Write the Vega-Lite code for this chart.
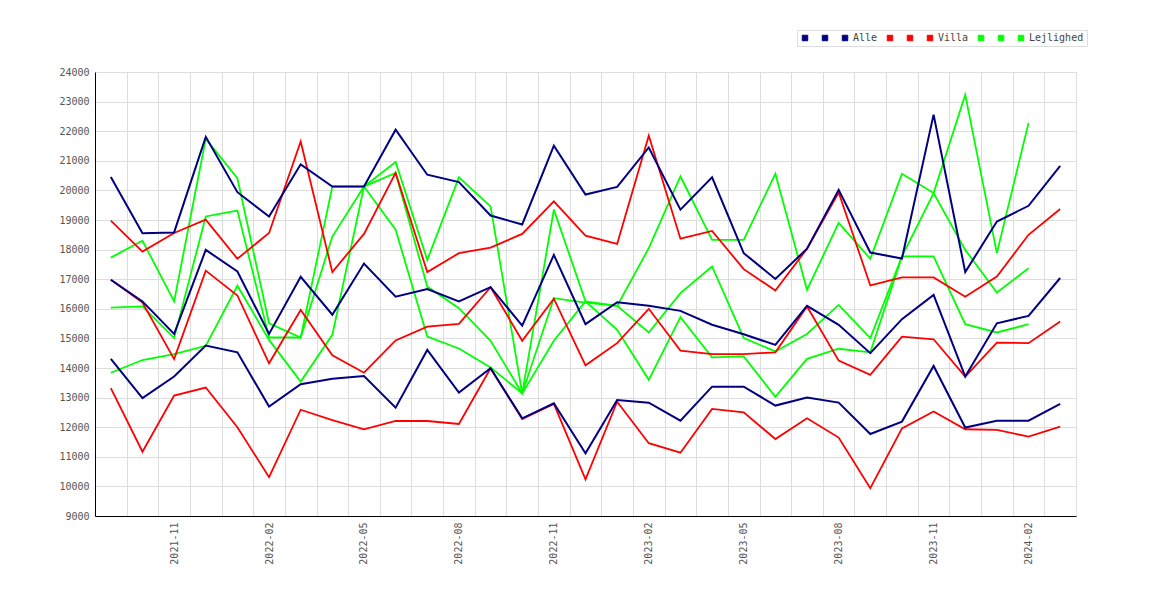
{
"$schema": "https://vega.github.io/schema/vega-lite/v6.json",
"width": 981, "height": 444,
"autosize": {"type": "none"},
"padding": {"left": 95, "top": 72, "right": 94, "bottom": 84},
"background": "white",
"config": {"view": {"stroke": null}, "font": "DejaVu Sans Mono"},
"data": {"values": [
{"m":"2021-09","s":"a1","v":20450},{"m":"2021-10","s":"a1","v":18550},{"m":"2021-11","s":"a1","v":18580},{"m":"2021-12","s":"a1","v":21810},{"m":"2022-01","s":"a1","v":19940},{"m":"2022-02","s":"a1","v":19120},{"m":"2022-03","s":"a1","v":20880},{"m":"2022-04","s":"a1","v":20130},{"m":"2022-05","s":"a1","v":20130},{"m":"2022-06","s":"a1","v":22050},{"m":"2022-07","s":"a1","v":20530},{"m":"2022-08","s":"a1","v":20280},{"m":"2022-09","s":"a1","v":19150},{"m":"2022-10","s":"a1","v":18850},{"m":"2022-11","s":"a1","v":21510},{"m":"2022-12","s":"a1","v":19860},{"m":"2023-01","s":"a1","v":20120},{"m":"2023-02","s":"a1","v":21450},{"m":"2023-03","s":"a1","v":19350},{"m":"2023-04","s":"a1","v":20440},{"m":"2023-05","s":"a1","v":17880},{"m":"2023-06","s":"a1","v":17010},{"m":"2023-07","s":"a1","v":18030},{"m":"2023-08","s":"a1","v":20020},{"m":"2023-09","s":"a1","v":17900},{"m":"2023-10","s":"a1","v":17700},{"m":"2023-11","s":"a1","v":22560},{"m":"2023-12","s":"a1","v":17240},{"m":"2024-01","s":"a1","v":18950},{"m":"2024-02","s":"a1","v":19480},{"m":"2024-03","s":"a1","v":20830},
{"m":"2021-09","s":"a2","v":16980},{"m":"2021-10","s":"a2","v":16250},{"m":"2021-11","s":"a2","v":15150},{"m":"2021-12","s":"a2","v":17990},{"m":"2022-01","s":"a2","v":17260},{"m":"2022-02","s":"a2","v":15150},{"m":"2022-03","s":"a2","v":17080},{"m":"2022-04","s":"a2","v":15800},{"m":"2022-05","s":"a2","v":17530},{"m":"2022-06","s":"a2","v":16410},{"m":"2022-07","s":"a2","v":16670},{"m":"2022-08","s":"a2","v":16250},{"m":"2022-09","s":"a2","v":16730},{"m":"2022-10","s":"a2","v":15430},{"m":"2022-11","s":"a2","v":17820},{"m":"2022-12","s":"a2","v":15480},{"m":"2023-01","s":"a2","v":16220},{"m":"2023-02","s":"a2","v":16100},{"m":"2023-03","s":"a2","v":15930},{"m":"2023-04","s":"a2","v":15460},{"m":"2023-05","s":"a2","v":15140},{"m":"2023-06","s":"a2","v":14780},{"m":"2023-07","s":"a2","v":16100},{"m":"2023-08","s":"a2","v":15460},{"m":"2023-09","s":"a2","v":14500},{"m":"2023-10","s":"a2","v":15650},{"m":"2023-11","s":"a2","v":16470},{"m":"2023-12","s":"a2","v":13710},{"m":"2024-01","s":"a2","v":15510},{"m":"2024-02","s":"a2","v":15760},{"m":"2024-03","s":"a2","v":17040},
{"m":"2021-09","s":"a3","v":14310},{"m":"2021-10","s":"a3","v":12980},{"m":"2021-11","s":"a3","v":13710},{"m":"2021-12","s":"a3","v":14760},{"m":"2022-01","s":"a3","v":14530},{"m":"2022-02","s":"a3","v":12700},{"m":"2022-03","s":"a3","v":13450},{"m":"2022-04","s":"a3","v":13640},{"m":"2022-05","s":"a3","v":13730},{"m":"2022-06","s":"a3","v":12660},{"m":"2022-07","s":"a3","v":14610},{"m":"2022-08","s":"a3","v":13170},{"m":"2022-09","s":"a3","v":13990},{"m":"2022-10","s":"a3","v":12300},{"m":"2022-11","s":"a3","v":12810},{"m":"2022-12","s":"a3","v":11120},{"m":"2023-01","s":"a3","v":12920},{"m":"2023-02","s":"a3","v":12830},{"m":"2023-03","s":"a3","v":12220},{"m":"2023-04","s":"a3","v":13370},{"m":"2023-05","s":"a3","v":13370},{"m":"2023-06","s":"a3","v":12730},{"m":"2023-07","s":"a3","v":13000},{"m":"2023-08","s":"a3","v":12830},{"m":"2023-09","s":"a3","v":11770},{"m":"2023-10","s":"a3","v":12190},{"m":"2023-11","s":"a3","v":14070},{"m":"2023-12","s":"a3","v":11990},{"m":"2024-01","s":"a3","v":12220},{"m":"2024-02","s":"a3","v":12220},{"m":"2024-03","s":"a3","v":12790},
{"m":"2021-09","s":"v1","v":18980},{"m":"2021-10","s":"v1","v":17935},{"m":"2021-11","s":"v1","v":18560},{"m":"2021-12","s":"v1","v":19010},{"m":"2022-01","s":"v1","v":17690},{"m":"2022-02","s":"v1","v":18560},{"m":"2022-03","s":"v1","v":21650},{"m":"2022-04","s":"v1","v":17240},{"m":"2022-05","s":"v1","v":18530},{"m":"2022-06","s":"v1","v":20590},{"m":"2022-07","s":"v1","v":17240},{"m":"2022-08","s":"v1","v":17880},{"m":"2022-09","s":"v1","v":18070},{"m":"2022-10","s":"v1","v":18530},{"m":"2022-11","s":"v1","v":19630},{"m":"2022-12","s":"v1","v":18470},{"m":"2023-01","s":"v1","v":18190},{"m":"2023-02","s":"v1","v":21850},{"m":"2023-03","s":"v1","v":18370},{"m":"2023-04","s":"v1","v":18630},{"m":"2023-05","s":"v1","v":17340},{"m":"2023-06","s":"v1","v":16620},{"m":"2023-07","s":"v1","v":18030},{"m":"2023-08","s":"v1","v":19930},{"m":"2023-09","s":"v1","v":16790},{"m":"2023-10","s":"v1","v":17060},{"m":"2023-11","s":"v1","v":17060},{"m":"2023-12","s":"v1","v":16410},{"m":"2024-01","s":"v1","v":17090},{"m":"2024-02","s":"v1","v":18500},{"m":"2024-03","s":"v1","v":19370},
{"m":"2021-09","s":"v2","v":16980},{"m":"2021-10","s":"v2","v":16210},{"m":"2021-11","s":"v2","v":14300},{"m":"2021-12","s":"v2","v":17290},{"m":"2022-01","s":"v2","v":16450},{"m":"2022-02","s":"v2","v":14160},{"m":"2022-03","s":"v2","v":15960},{"m":"2022-04","s":"v2","v":14430},{"m":"2022-05","s":"v2","v":13840},{"m":"2022-06","s":"v2","v":14930},{"m":"2022-07","s":"v2","v":15400},{"m":"2022-08","s":"v2","v":15490},{"m":"2022-09","s":"v2","v":16730},{"m":"2022-10","s":"v2","v":14920},{"m":"2022-11","s":"v2","v":16340},{"m":"2022-12","s":"v2","v":14090},{"m":"2023-01","s":"v2","v":14840},{"m":"2023-02","s":"v2","v":16000},{"m":"2023-03","s":"v2","v":14590},{"m":"2023-04","s":"v2","v":14470},{"m":"2023-05","s":"v2","v":14470},{"m":"2023-06","s":"v2","v":14530},{"m":"2023-07","s":"v2","v":16080},{"m":"2023-08","s":"v2","v":14250},{"m":"2023-09","s":"v2","v":13770},{"m":"2023-10","s":"v2","v":15060},{"m":"2023-11","s":"v2","v":14970},{"m":"2023-12","s":"v2","v":13710},{"m":"2024-01","s":"v2","v":14860},{"m":"2024-02","s":"v2","v":14840},{"m":"2024-03","s":"v2","v":15570},
{"m":"2021-09","s":"v3","v":13320},{"m":"2021-10","s":"v3","v":11170},{"m":"2021-11","s":"v3","v":13070},{"m":"2021-12","s":"v3","v":13340},{"m":"2022-01","s":"v3","v":12000},{"m":"2022-02","s":"v3","v":10310},{"m":"2022-03","s":"v3","v":12590},{"m":"2022-04","s":"v3","v":12240},{"m":"2022-05","s":"v3","v":11930},{"m":"2022-06","s":"v3","v":12210},{"m":"2022-07","s":"v3","v":12210},{"m":"2022-08","s":"v3","v":12110},{"m":"2022-09","s":"v3","v":13990},{"m":"2022-10","s":"v3","v":12270},{"m":"2022-11","s":"v3","v":12790},{"m":"2022-12","s":"v3","v":10240},{"m":"2023-01","s":"v3","v":12860},{"m":"2023-02","s":"v3","v":11460},{"m":"2023-03","s":"v3","v":11140},{"m":"2023-04","s":"v3","v":12620},{"m":"2023-05","s":"v3","v":12500},{"m":"2023-06","s":"v3","v":11600},{"m":"2023-07","s":"v3","v":12300},{"m":"2023-08","s":"v3","v":11650},{"m":"2023-09","s":"v3","v":9940},{"m":"2023-10","s":"v3","v":11960},{"m":"2023-11","s":"v3","v":12530},{"m":"2023-12","s":"v3","v":11930},{"m":"2024-01","s":"v3","v":11910},{"m":"2024-02","s":"v3","v":11680},{"m":"2024-03","s":"v3","v":12020},
{"m":"2021-09","s":"l1","v":17730},{"m":"2021-10","s":"l1","v":18300},{"m":"2021-11","s":"l1","v":16250},{"m":"2021-12","s":"l1","v":21740},{"m":"2022-01","s":"l1","v":20410},{"m":"2022-02","s":"l1","v":15510},{"m":"2022-03","s":"l1","v":15030},{"m":"2022-04","s":"l1","v":20130},{"m":"2022-05","s":"l1","v":20130},{"m":"2022-06","s":"l1","v":20960},{"m":"2022-07","s":"l1","v":17650},{"m":"2022-08","s":"l1","v":20440},{"m":"2022-09","s":"l1","v":19460},{"m":"2022-10","s":"l1","v":13140},{"m":"2022-11","s":"l1","v":19350},{"m":"2022-12","s":"l1","v":16250},{"m":"2023-01","s":"l1","v":16100},{"m":"2023-02","s":"l1","v":15200},{"m":"2023-03","s":"l1","v":16530},{"m":"2023-04","s":"l1","v":17430},{"m":"2023-05","s":"l1","v":15010},{"m":"2023-06","s":"l1","v":14560},{"m":"2023-07","s":"l1","v":15150},{"m":"2023-08","s":"l1","v":16130},{"m":"2023-09","s":"l1","v":15010},{"m":"2023-10","s":"l1","v":17770},{"m":"2023-11","s":"l1","v":17770},{"m":"2023-12","s":"l1","v":15480},{"m":"2024-01","s":"l1","v":15200},{"m":"2024-02","s":"l1","v":15480},
{"m":"2021-09","s":"l2","v":16040},{"m":"2021-10","s":"l2","v":16080},{"m":"2021-11","s":"l2","v":15010},{"m":"2021-12","s":"l2","v":19120},{"m":"2022-01","s":"l2","v":19320},{"m":"2022-02","s":"l2","v":15030},{"m":"2022-03","s":"l2","v":15030},{"m":"2022-04","s":"l2","v":18440},{"m":"2022-05","s":"l2","v":20130},{"m":"2022-06","s":"l2","v":20590},{"m":"2022-07","s":"l2","v":16750},{"m":"2022-08","s":"l2","v":16020},{"m":"2022-09","s":"l2","v":14920},{"m":"2022-10","s":"l2","v":13140},{"m":"2022-11","s":"l2","v":16360},{"m":"2022-12","s":"l2","v":16210},{"m":"2023-01","s":"l2","v":16100},{"m":"2023-02","s":"l2","v":18050},{"m":"2023-03","s":"l2","v":20470},{"m":"2023-04","s":"l2","v":18330},{"m":"2023-05","s":"l2","v":18330},{"m":"2023-06","s":"l2","v":20560},{"m":"2023-07","s":"l2","v":16640},{"m":"2023-08","s":"l2","v":18900},{"m":"2023-09","s":"l2","v":17690},{"m":"2023-10","s":"l2","v":20560},{"m":"2023-11","s":"l2","v":19910},{"m":"2023-12","s":"l2","v":17990},{"m":"2024-01","s":"l2","v":16550},{"m":"2024-02","s":"l2","v":17370},
{"m":"2021-09","s":"l3","v":13840},{"m":"2021-10","s":"l3","v":14270},{"m":"2021-11","s":"l3","v":14470},{"m":"2021-12","s":"l3","v":14750},{"m":"2022-01","s":"l3","v":16780},{"m":"2022-02","s":"l3","v":14950},{"m":"2022-03","s":"l3","v":13540},{"m":"2022-04","s":"l3","v":15120},{"m":"2022-05","s":"l3","v":20130},{"m":"2022-06","s":"l3","v":18670},{"m":"2022-07","s":"l3","v":15060},{"m":"2022-08","s":"l3","v":14660},{"m":"2022-09","s":"l3","v":14020},{"m":"2022-10","s":"l3","v":13140},{"m":"2022-11","s":"l3","v":14920},{"m":"2022-12","s":"l3","v":16250},{"m":"2023-01","s":"l3","v":15290},{"m":"2023-02","s":"l3","v":13600},{"m":"2023-03","s":"l3","v":15720},{"m":"2023-04","s":"l3","v":14360},{"m":"2023-05","s":"l3","v":14390},{"m":"2023-06","s":"l3","v":13030},{"m":"2023-07","s":"l3","v":14310},{"m":"2023-08","s":"l3","v":14650},{"m":"2023-09","s":"l3","v":14530},{"m":"2023-10","s":"l3","v":17770},{"m":"2023-11","s":"l3","v":19910},{"m":"2023-12","s":"l3","v":23230},{"m":"2024-01","s":"l3","v":17880},{"m":"2024-02","s":"l3","v":22280}
]},
"encoding": {
  "x": {"field": "m", "type": "ordinal", "bandPosition": 0.5,
    "scale": {"type": "band", "paddingInner": 0, "paddingOuter": 0},
    "axis": {"title": null, "labelAngle": 270, "labelExpr": "toNumber(substring(datum.value,5,7)) % 3 == 2 ? datum.value : ''",
      "ticks": false, "tickBand": "extent", "grid": true, "gridColor": "#dddddd", "gridWidth": 1,
      "domainColor": "#000000", "domainWidth": 1, "labelFont": "DejaVu Sans Mono", "labelFontSize": 10,
      "labelColor": "#555555", "labelPadding": 6, "labelOverlap": false}},
  "y": {"field": "v", "type": "quantitative",
    "scale": {"domain": [9000, 24000], "nice": false, "zero": false},
    "axis": {"title": null, "values": [9000,10000,11000,12000,13000,14000,15000,16000,17000,18000,19000,20000,21000,22000,23000,24000],
      "format": "d", "ticks": false, "grid": true, "gridColor": "#dddddd", "gridWidth": 1,
      "domainColor": "#000000", "domainWidth": 1, "labelFont": "DejaVu Sans Mono", "labelFontSize": 10,
      "labelColor": "#555555", "labelPadding": 6}},
  "color": {"field": "s", "type": "nominal",
    "scale": {"domain": ["a1","a2","a3","v1","v2","v3","l1","l2","l3"],
      "range": ["#000080","#000080","#000080","#ff0000","#ff0000","#ff0000","#00ff00","#00ff00","#00ff00"]},
    "legend": {"title": null, "orient": "none", "legendX": 702, "legendY": -42, "direction": "horizontal",
      "symbolType": "square", "symbolSize": 30, "symbolStrokeWidth": 1,
      "labelExpr": "datum.value == 'a3' ? 'Alle' : datum.value == 'v3' ? 'Villa' : datum.value == 'l3' ? 'Lejlighed' : ' '",
      "labelFont": "DejaVu Sans Mono", "labelFontSize": 10, "labelColor": "#444444", "labelOffset": 3,
      "columnPadding": 7, "padding": 3, "strokeColor": "#dddddd", "fillColor": "#ffffff",
      "encode": {"symbols": {"update": {"fill": {"scale": "color", "field": "value"}, "stroke": {"value": "#555555"}, "strokeWidth": {"value": 1}, "opacity": {"value": 1}}}}}}
},
"layer": [
  {"transform": [{"filter": {"field": "s", "oneOf": ["l1","l2","l3"]}}], "mark": {"type": "line", "strokeWidth": 1.8}},
  {"transform": [{"filter": {"field": "s", "oneOf": ["v1","v2","v3"]}}], "mark": {"type": "line", "strokeWidth": 1.8}},
  {"transform": [{"filter": {"field": "s", "oneOf": ["a1","a2","a3"]}}], "mark": {"type": "line", "strokeWidth": 2}}
]
}
